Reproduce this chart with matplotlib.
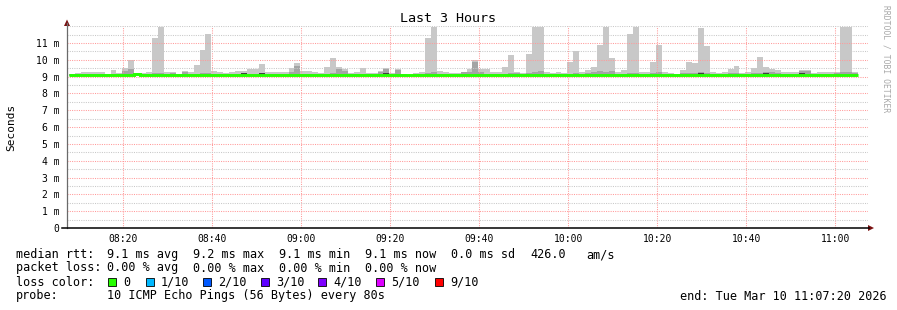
import matplotlib
matplotlib.use('Agg')
import matplotlib.pyplot as plt
import numpy as np
from matplotlib.patches import Rectangle, Polygon
from matplotlib.lines import Line2D

plt.rcParams['font.family'] = ['DejaVu Sans Mono', 'DejaVu Sans']

# ---------------- data ----------------
title = 'Last 3 Hours'
start_hms = (8, 7, 20)          # left edge of the graph
step_seconds = 80
first_sample_offset_s = 27

smoke_max = [
    9.12, 9.20, 9.28, 9.25, 9.30, 9.25, 9.15, 9.38, 9.20, 9.50,
    10.00, 9.22, 9.20, 9.25, 11.30, 11.95, 9.25, 9.25, 9.15, 9.35,
    9.30, 9.70, 10.60, 11.55, 9.35, 9.25, 9.20, 9.30, 9.35, 9.35,
    9.45, 9.45, 9.75, 9.25, 9.25, 9.25, 9.25, 9.50, 9.80, 9.35,
    9.35, 9.30, 9.20, 9.60, 10.10, 9.55, 9.45, 9.20, 9.25, 9.50,
    9.20, 9.20, 9.35, 9.50, 9.20, 9.45, 9.15, 9.10, 9.20, 9.25,
    11.30, 11.95, 9.35, 9.25, 9.22, 9.20, 9.30, 9.45, 10.00, 9.45,
    9.45, 9.30, 9.25, 9.60, 10.30, 9.30, 9.20, 10.35, 11.95, 11.95,
    9.30, 9.20, 9.30, 9.20, 9.85, 10.50, 9.30, 9.40, 9.55, 10.90,
    11.95, 10.10, 9.25, 9.40, 11.55, 11.95, 9.30, 9.25, 9.85, 10.90,
    9.30, 9.20, 9.15, 9.40, 9.85, 9.80, 11.90, 10.80, 9.25, 9.20,
    9.30, 9.45, 9.65, 9.20, 9.25, 9.50, 10.15, 9.55, 9.45, 9.40,
    9.30, 9.30, 9.30, 9.40, 9.40, 9.20, 9.25, 9.25, 9.25, 9.30,
    11.95, 11.95, 9.30,
]

smoke_mid = [
    9.14, 9.16, 9.17, 9.17, 9.17, 9.17, 9.14, 9.18, 9.17, 9.35,
    9.45, 9.20, 9.17, 9.17, 9.20, 9.22, 9.17, 9.22, 9.14, 9.30,
    9.17, 9.18, 9.20, 9.22, 9.17, 9.17, 9.17, 9.17, 9.17, 9.17,
    9.17, 9.17, 9.18, 9.17, 9.17, 9.17, 9.17, 9.30, 9.65, 9.17,
    9.17, 9.17, 9.17, 9.17, 9.20, 9.45, 9.35, 9.17, 9.17, 9.17,
    9.17, 9.17, 9.30, 9.45, 9.17, 9.40, 9.14, 9.12, 9.17, 9.17,
    9.20, 9.25, 9.17, 9.17, 9.17, 9.17, 9.25, 9.30, 9.85, 9.30,
    9.17, 9.17, 9.17, 9.17, 9.20, 9.20, 9.17, 9.20, 9.25, 9.35,
    9.17, 9.17, 9.17, 9.17, 9.17, 9.20, 9.17, 9.20, 9.30, 9.35,
    9.25, 9.35, 9.17, 9.17, 9.20, 9.20, 9.17, 9.17, 9.20, 9.25,
    9.17, 9.17, 9.14, 9.20, 9.20, 9.20, 9.25, 9.20, 9.17, 9.17,
    9.17, 9.20, 9.20, 9.17, 9.17, 9.20, 9.22, 9.30, 9.25, 9.20,
    9.17, 9.17, 9.17, 9.35, 9.35, 9.17, 9.17, 9.17, 9.17, 9.20,
    9.25, 9.30, 9.20,
]

smoke_min = [
    9.04, 9.03, 9.03, 9.03, 9.04, 9.03, 9.03, 9.03, 9.04, 9.03,
    9.03, 9.05, 9.03, 9.03, 9.03, 9.02, 9.03, 9.04, 9.02, 9.03,
    9.03, 9.03, 9.04, 9.03, 9.03, 9.02, 9.03, 9.04, 9.03, 9.03,
    9.03, 9.03, 9.03, 9.02, 9.03, 9.03, 9.02, 9.02, 9.03, 9.03,
    9.03, 9.03, 9.02, 9.03, 9.03, 9.03, 9.03, 9.03, 9.03, 9.03,
    9.03, 9.03, 9.03, 9.03, 9.03, 9.03, 9.02, 9.02, 9.02, 9.03,
    9.03, 9.03, 9.03, 9.02, 9.02, 9.02, 9.03, 9.03, 9.03, 9.03,
    9.02, 9.03, 9.03, 9.03, 9.03, 9.03, 9.03, 9.03, 9.03, 9.02,
    9.02, 9.03, 9.03, 9.02, 9.03, 9.03, 9.03, 9.03, 9.03, 9.02,
    9.03, 9.02, 9.02, 9.02, 9.02, 9.02, 9.03, 9.02, 9.02, 9.03,
    9.03, 9.02, 9.02, 9.03, 9.03, 9.03, 9.03, 9.03, 9.03, 9.03,
    9.03, 9.03, 9.03, 9.02, 9.02, 9.03, 9.03, 9.03, 9.03, 9.02,
    9.02, 9.03, 9.02, 9.03, 9.03, 9.03, 9.03, 9.02, 9.02, 9.02,
    9.03, 9.03, 9.03,
]

median = [
    9.07, 9.07, 9.11, 9.11, 9.11, 9.11, 9.11, 9.11, 9.11, 9.11,
    9.11, 9.13, 9.11, 9.11, 9.11, 9.07, 9.11, 9.11, 9.07, 9.11,
    9.11, 9.11, 9.11, 9.11, 9.11, 9.07, 9.11, 9.12, 9.11, 9.11,
    9.11, 9.11, 9.11, 9.07, 9.11, 9.11, 9.07, 9.07, 9.11, 9.11,
    9.11, 9.11, 9.07, 9.11, 9.11, 9.11, 9.11, 9.11, 9.11, 9.11,
    9.11, 9.11, 9.11, 9.11, 9.11, 9.11, 9.07, 9.07, 9.07, 9.11,
    9.11, 9.11, 9.11, 9.07, 9.07, 9.07, 9.11, 9.11, 9.11, 9.11,
    9.07, 9.11, 9.11, 9.11, 9.11, 9.11, 9.11, 9.11, 9.11, 9.07,
    9.07, 9.11, 9.12, 9.07, 9.11, 9.11, 9.11, 9.11, 9.11, 9.07,
    9.11, 9.07, 9.07, 9.07, 9.07, 9.07, 9.11, 9.07, 9.07, 9.11,
    9.11, 9.07, 9.07, 9.11, 9.11, 9.11, 9.12, 9.11, 9.11, 9.11,
    9.11, 9.11, 9.11, 9.07, 9.07, 9.11, 9.11, 9.11, 9.11, 9.07,
    9.07, 9.11, 9.07, 9.11, 9.11, 9.11, 9.11, 9.07, 9.07, 9.07,
    9.11, 9.11, 9.11,
]

dark_steps = [29, 32, 53, 106, 117, 123]

xtick_labels = ['08:20', '08:40', '09:00', '09:20', '09:40',
                '10:00', '10:20', '10:40', '11:00']
ytick_values = [0, 1, 2, 3, 4, 5, 6, 7, 8, 9, 10, 11]
ytick_labels = ['0'] + ['%d m' % v for v in ytick_values[1:]]

loss_labels = ['0', '1/10', '2/10', '3/10', '4/10', '5/10', '9/10']
loss_colors = ['#26ff00', '#00b8ff', '#0059ff', '#5e00ff', '#7e00ff', '#dd00ff', '#ff0000']

stats_rtt = ['9.1 ms avg', '9.2 ms max', '9.1 ms min', '9.1 ms now', '0.0 ms sd', '426.0', 'am/s']
stats_loss = ['0.00 % avg', '0.00 % max', '0.00 % min', '0.00 % now']
probe_text = '10 ICMP Echo Pings (56 Bytes) every 80s'
end_text = 'end: Tue Mar 10 11:07:20 2026'

# ---------------- derived ----------------
start_min = start_hms[0] * 60 + start_hms[1] + start_hms[2] / 60.0
n = len(smoke_max)
edges = (first_sample_offset_s + step_seconds * np.arange(n + 1)) / 60.0
xticks = [int(s[:2]) * 60 + int(s[3:]) - start_min for s in xtick_labels]

W, H = 897, 310
fig = plt.figure(figsize=(W / 100, H / 100), dpi=100)
fig.patch.set_facecolor('white')

ax_l, ax_r, ax_b, ax_t = 67, 868, 228, 26.2
ax = fig.add_axes([ax_l / W, (H - ax_b) / H, (ax_r - ax_l) / W, (ax_b - ax_t) / H])
ax.set_xlim(0, 180)
ax.set_ylim(0, 12)
for s in ax.spines.values():
    s.set_visible(False)

# grid
grid_dash = (0, (1, 1.2))
minor_x = [m for m in np.arange(0, 181, 1.0)
           if abs(((m + start_min) % 5)) < 1e-6 and abs(((m + start_min) % 20)) > 1e-6]
for m in minor_x:
    ax.axvline(m, color='#c8c8c8', lw=0.75, ls=grid_dash, zorder=3)
for m in xticks:
    ax.axvline(m, color='#ff9a9a', lw=0.75, ls=grid_dash, zorder=3)
for v in np.arange(0.5, 12.01, 0.5):
    if abs(v - round(v)) > 1e-6 or v >= 12:
        ax.axhline(v, color='#c8c8c8', lw=0.75, ls=grid_dash, zorder=3)
for v in ytick_values[1:]:
    ax.axhline(v, color='#ff9a9a', lw=0.75, ls=grid_dash, zorder=3)

# smoke
ax.stairs(smoke_max, edges, baseline=smoke_min, fill=True, color='#c8c8c8', lw=0, zorder=2)
ax.stairs(smoke_mid, edges, baseline=smoke_min, fill=True, color='#a4a4a4', lw=0, zorder=2.1)
for i in dark_steps:
    ax.add_patch(Rectangle((edges[i], median[i] - 0.02), edges[i + 1] - edges[i], 0.1,
                           color='#404040', lw=0, zorder=2.2))
# median
ax.stairs(median, edges, baseline=None, color='#26ff00', lw=2.1, zorder=4)

ax.set_xticks(xticks)
ax.set_xticklabels(xtick_labels)
ax.set_yticks(ytick_values)
ax.set_yticklabels(ytick_labels)
ax.tick_params(axis='both', length=0, labelsize=7, colors='#000000')
ax.tick_params(axis='y', pad=5.5)
ax.tick_params(axis='x', pad=4)

# overlay in pixel coordinates
ov = fig.add_axes([0, 0, 1, 1], zorder=10)
ov.set_xlim(0, W)
ov.set_ylim(H, 0)
ov.axis('off')
ov.patch.set_visible(False)

ov.add_line(Line2D([67, 67], [228, 23], color='#6a6a6a', lw=0.9))
ov.add_line(Line2D([62, 869], [228, 228], color='#000000', lw=1.1))
ov.add_patch(Polygon([[64, 26], [70, 26], [67, 19.5]], closed=True, color='#7a1010', lw=0))
ov.add_patch(Polygon([[868, 225], [868, 231], [874, 228]], closed=True, color='#7a1010', lw=0))

ov.text(448, 19, title, ha='center', va='center', fontsize=9.6, color='#000000')
ov.text(11, 127, 'Seconds', ha='center', va='center', rotation=90, fontsize=8, color='#000000')
ov.text(886, 59, 'RRDTOOL / TOBI OETIKER', ha='center', va='center', rotation=-90,
        fontsize=5.8, color='#a8a8a8')

fs = 8.5
ov.text(16, 254.5, 'median rtt:', ha='left', va='center', fontsize=fs)
for xx, t in zip([107, 193, 279, 365, 451, 530.7, 586.7], stats_rtt):
    ov.text(xx, 254.5, t, ha='left', va='center', fontsize=fs)
ov.text(16, 268, 'packet loss:', ha='left', va='center', fontsize=fs)
for xx, t in zip([107, 193, 279, 365], stats_loss):
    ov.text(xx, 268, t, ha='left', va='center', fontsize=fs)
ov.text(16, 282.3, 'loss color:', ha='left', va='center', fontsize=fs)
sq_x = [108, 146, 203, 261, 318, 376, 435]
for xx, lab, col in zip(sq_x, loss_labels, loss_colors):
    ov.add_patch(Rectangle((xx, 278.3), 8, 8, facecolor=col, edgecolor='#000000', lw=0.6))
    ov.text(xx + 15, 282.3, lab, ha='left', va='center', fontsize=fs)
ov.text(16, 296, 'probe:', ha='left', va='center', fontsize=fs)
ov.text(107, 296, probe_text, ha='left', va='center', fontsize=fs)
ov.text(886.5, 296, end_text, ha='right', va='center', fontsize=fs)

fig.savefig('out.png', dpi=100)
